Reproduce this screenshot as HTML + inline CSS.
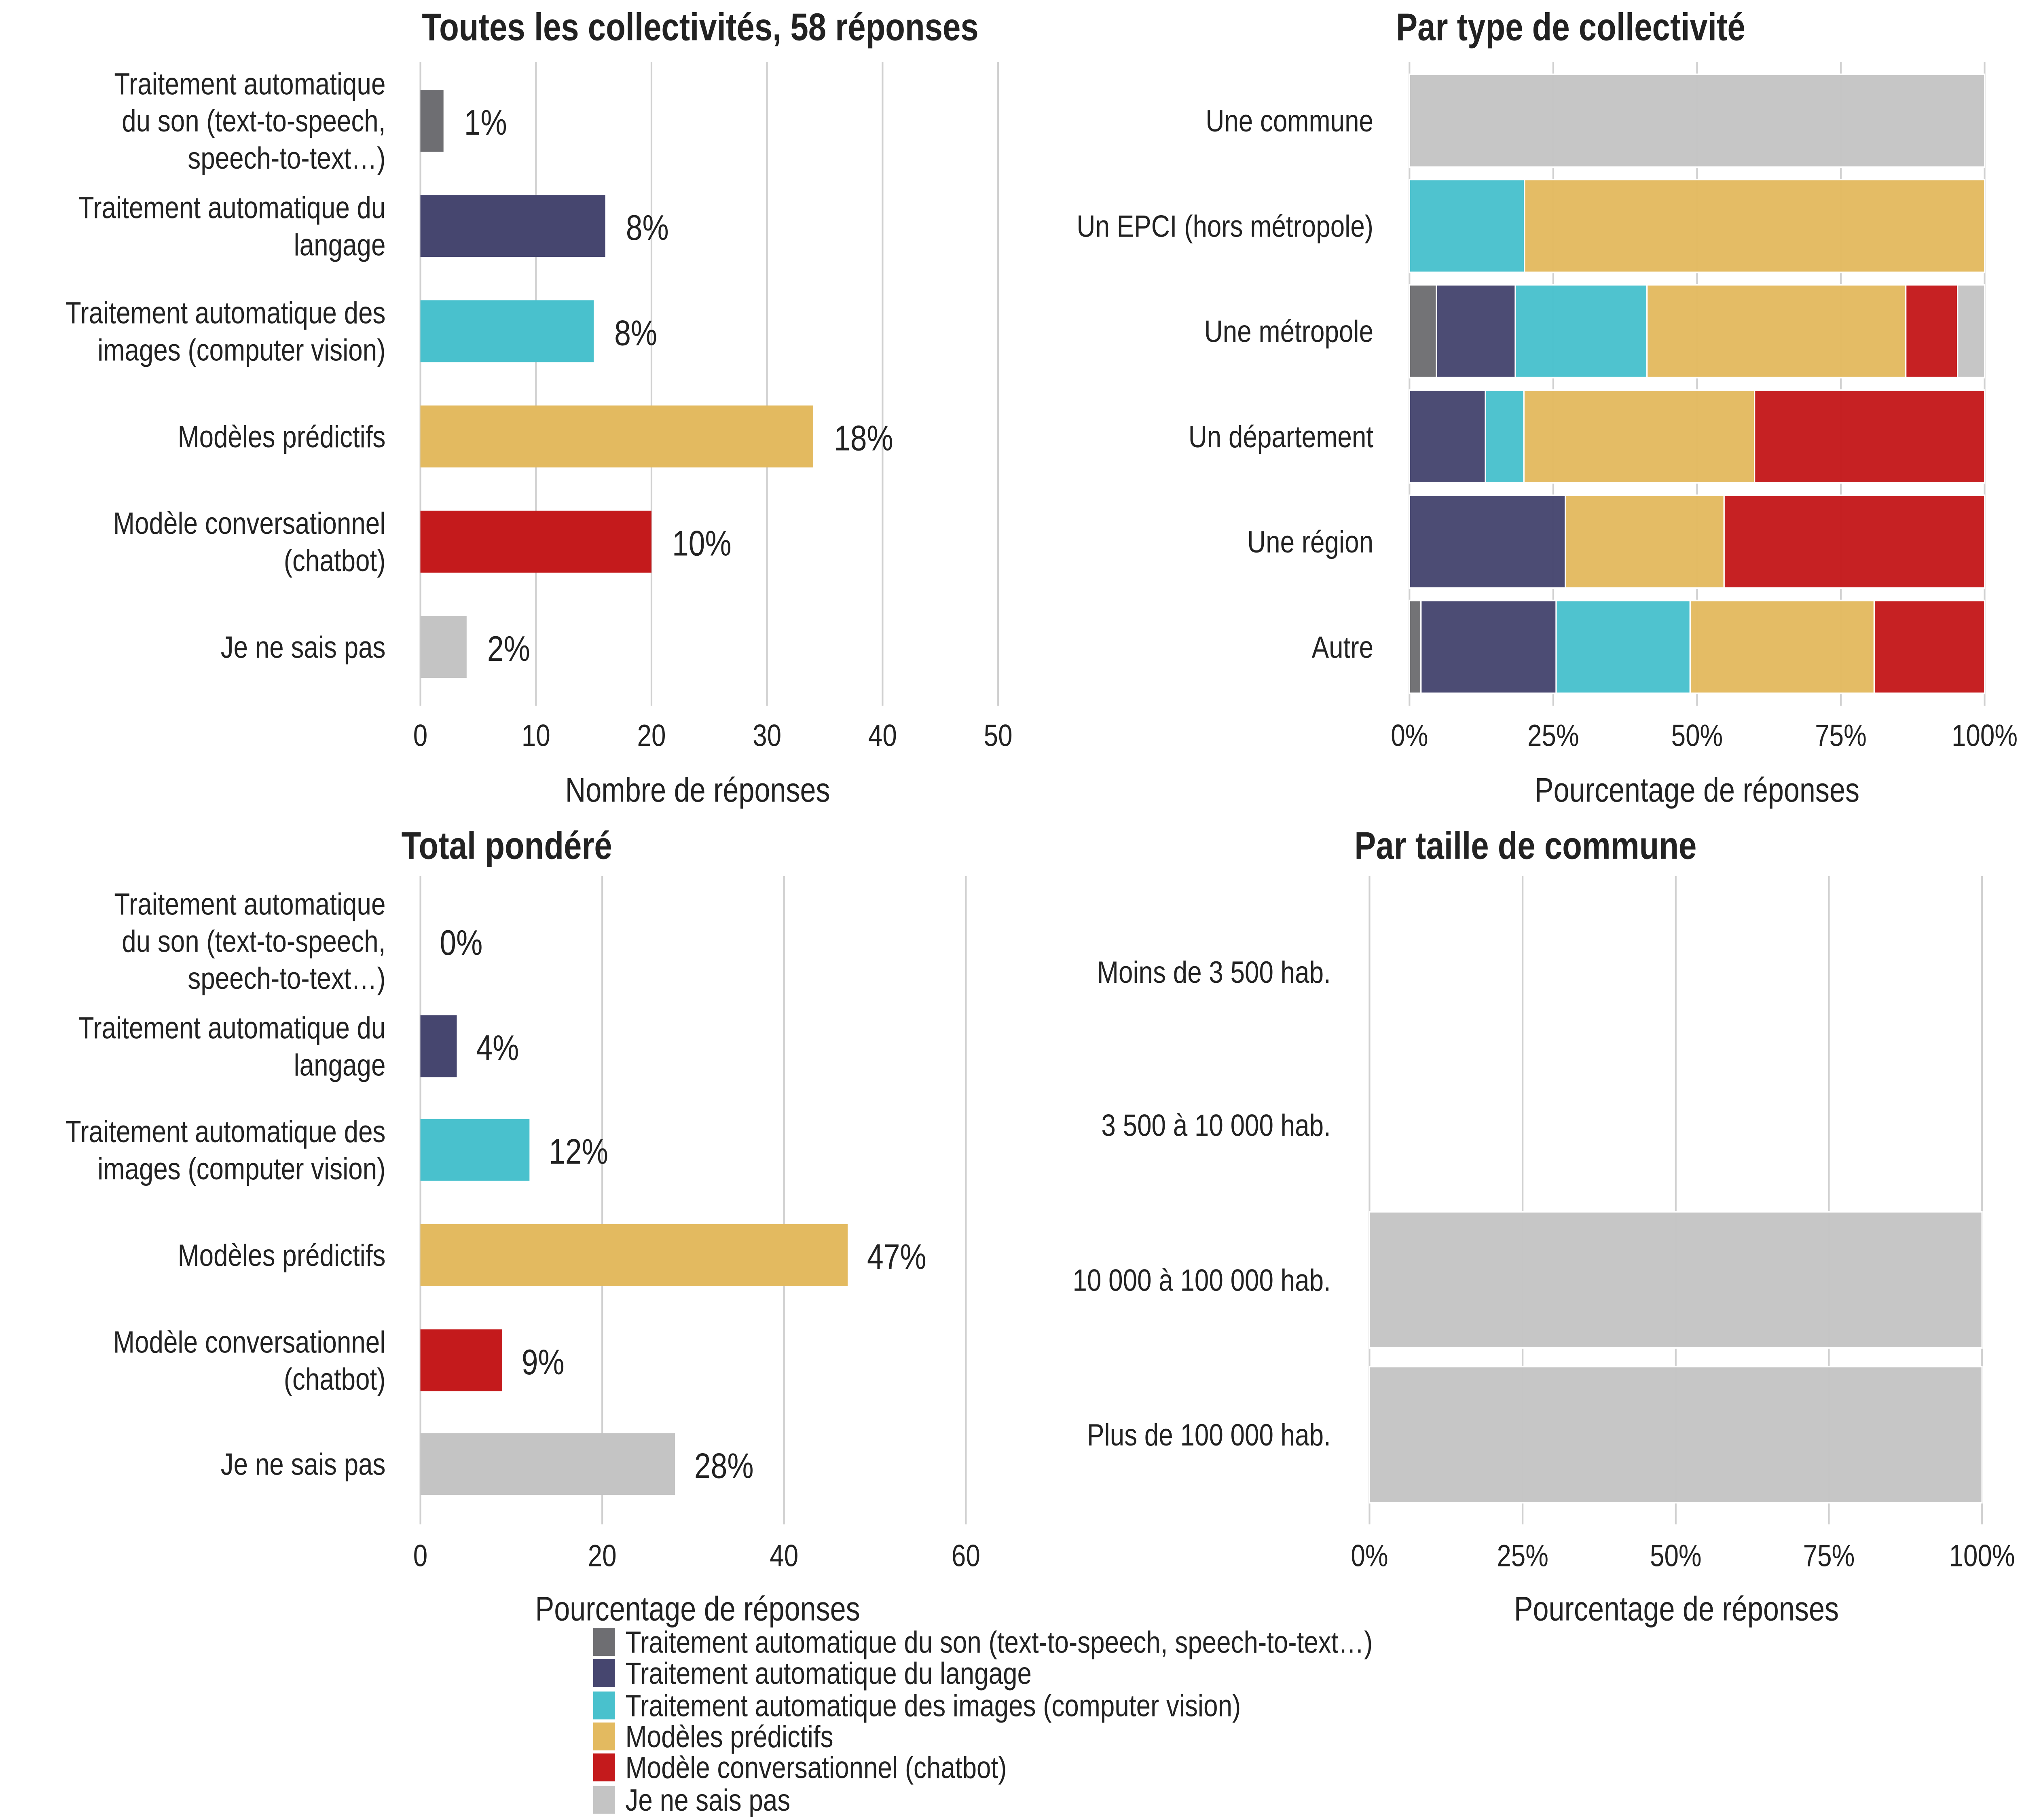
<!DOCTYPE html>
<html><head><meta charset="utf-8"><style>
html,body{margin:0;padding:0;background:#fff;width:100%;height:100%;overflow:hidden}
svg{display:block;position:fixed;left:0;top:0;width:100vw;height:100vh}
text{font-family:"Liberation Sans",sans-serif;fill:#222}
</style></head><body>
<svg id="c" viewBox="0 0 1568 1176" preserveAspectRatio="none" xmlns="http://www.w3.org/2000/svg"></svg>
<script>
const colors=["#6e6e72","#46466f","#49c1cd","#e3ba60","#c41a1c","#c4c4c4"];
const categories=["Traitement automatique du son (text-to-speech, speech-to-text…)","Traitement automatique du langage","Traitement automatique des images (computer vision)","Modèles prédictifs","Modèle conversationnel (chatbot)","Je ne sais pas"];
const catLines=[["Traitement automatique","du son (text-to-speech,","speech-to-text…)"],["Traitement automatique du","langage"],["Traitement automatique des","images (computer vision)"],["Modèles prédictifs"],["Modèle conversationnel","(chatbot)"],["Je ne sais pas"]];
const countValues=[2,16,15,34,20,4];
const countLabels=["1%","8%","8%","18%","10%","2%"];
const countTicks=[0,10,20,30,40,50];
const weightedValues=[0,4,12,47,9,28];
const weightedLabels=["0%","4%","12%","47%","9%","28%"];
const weightedTicks=[0,20,40,60];
const typeCats=["Une commune","Un EPCI (hors métropole)","Une métropole","Un département","Une région","Autre"];
const typeSon=[0,0,4.7,0,0,2];
const typeLang=[0,0,13.7,13.2,27.1,23.5];
const typeImg=[0,20,22.9,6.7,0,23.3];
const typePred=[0,80,45,40.1,27.6,32];
const typeChat=[0,0,9,40,45.3,19.2];
const typeNsp=[100,0,4.7,0,0,0];
const sizeCats=["Moins de 3 500 hab.","3 500 à 10 000 hab.","10 000 à 100 000 hab.","Plus de 100 000 hab."];
const sizeSon=[0,0,0,0],sizeLang=[0,0,0,0],sizeImg=[0,0,0,0],sizePred=[0,0,0,0],sizeChat=[0,0,0,0];
const sizeNsp=[0,0,100,100];
const pctTicks=[0,25,50,75,100];

const svg=document.getElementById('c');
const NS="http://www.w3.org/2000/svg";
function el(tag,attrs,parent){const e=document.createElementNS(NS,tag);for(const k in attrs)e.setAttribute(k,attrs[k]);(parent||svg).appendChild(e);return e;}
function txt(x,y,s,attrs,parent){const t=el('text',Object.assign({x:x,y:y},attrs),parent);t.textContent=s;return t;}

function grid(g,scale,ticks,top,bot,tickY,fmt){
  ticks.forEach(v=>{const x=scale(v);
    const l=el('line',{x1:x,x2:x,y1:top,y2:bot,stroke:"#d0d0d0","stroke-width":1.3},g);
    
    
    const t=txt(x,tickY,fmt(v),{"font-size":20,"text-anchor":"middle",fill:"#333"},g);
    
    
  });
}
function ylabels(g,lines,ys,x){
  lines.forEach((ls,i)=>{const n=ls.length;ls.forEach((s,j)=>{
    const t=txt(x,ys[i]+7+(j-(n-1)/2)*24,s,{"font-size":20,"text-anchor":"end",fill:"#222"},g);
    
    
  });});
}
function title(g,x,y,s,name){const t=txt(x,y,s,{"font-size":25,"font-weight":"bold","text-anchor":"middle"},g);}
function axisTitle(g,x,y,s){const t=txt(x,y,s,{"font-size":22,"text-anchor":"middle",fill:"#222"},g);}

const rowY=[78,146,214,282,350,418];
(function(){
  const g=el('g',{});
  const sx=v=>326+v*(774-326)/50;
  grid(g,sx,countTicks,40,456,482,v=>String(v));
  countValues.forEach((v,i)=>{
    const r=el('rect',{x:sx(0),y:rowY[i]-20,width:sx(v)-sx(0),height:40,fill:colors[i]},g);
    
    
    const t=txt(sx(v)+16,rowY[i]+9,countLabels[i],{"font-size":23,"font-family":"DejaVu Sans",fill:"#111"},g);
    
    
  });
  ylabels(g,catLines,rowY,299);
  title(g,543,26,"Toutes les collectivités, 58 réponses",'panel-title');
  axisTitle(g,541,518,"Nombre de réponses");
})();
function stacked(name,cats,series,ys,bh,x0,x1,top,bot,tickY,titleX,titleY,titleS,axX,axY,labelX){
  const g=el('g',{});
  const sx=v=>x0+v*(x1-x0)/100;
  grid(g,sx,pctTicks,top,bot,tickY,v=>v+"%");
  cats.forEach((c,i)=>{let acc=0;
    series.forEach((s,k)=>{const v=s[i];if(v>0){
      const r=el('rect',{x:sx(acc),y:ys[i]-bh/2,width:sx(acc+v)-sx(acc),height:bh,fill:colors[k],stroke:"#fff","stroke-width":1,"fill-opacity":0.97},g);
      
      
      acc+=v;}});
  });
  ylabels(g,cats.map(c=>[c]),ys,labelX);
  title(g,titleX,titleY,titleS,'panel-title');
  axisTitle(g,axX,axY,"Pourcentage de réponses");
}
stacked('panel-by-type',typeCats,[typeSon,typeLang,typeImg,typePred,typeChat,typeNsp],rowY,60,1093,1539,40,456,482,1218,26,"Par type de collectivité",1316,518,1065);
stacked('panel-by-size',sizeCats,[sizeSon,sizeLang,sizeImg,sizePred,sizeChat,sizeNsp],[628,727,827,927],88,1062,1537,566,985,1012,1183,555,"Par taille de commune",1300,1047,1032);
(function(){
  const g=el('g',{});
  const sx=v=>326+v*(749-326)/60;
  const ys=[608,676,743,811,879,946];
  grid(g,sx,weightedTicks,566,985,1012,v=>String(v));
  weightedValues.forEach((v,i)=>{
    if(v>0){const r=el('rect',{x:sx(0),y:ys[i]-20,width:sx(v)-sx(0),height:40,fill:colors[i]},g);
    
    }
    const t=txt(sx(v)+15,ys[i]+9,weightedLabels[i],{"font-size":23,"font-family":"DejaVu Sans",fill:"#111"},g);
    
    
  });
  ylabels(g,catLines,ys,299);
  title(g,393,555,"Total pondéré",'panel-title');
  axisTitle(g,541,1047,"Pourcentage de réponses");
})();
(function(){
  const g=el('g',{});
  const ly=[1061,1081,1102,1122,1142,1163];
  categories.forEach((c,i)=>{
    const r=el('rect',{x:460,y:ly[i]-9,width:17,height:18,fill:colors[i]},g);
    
    
    const t=txt(485,ly[i]+7,c,{"font-size":20,fill:"#222"},g);
    
    
  });
})();
</script>
</body></html>
